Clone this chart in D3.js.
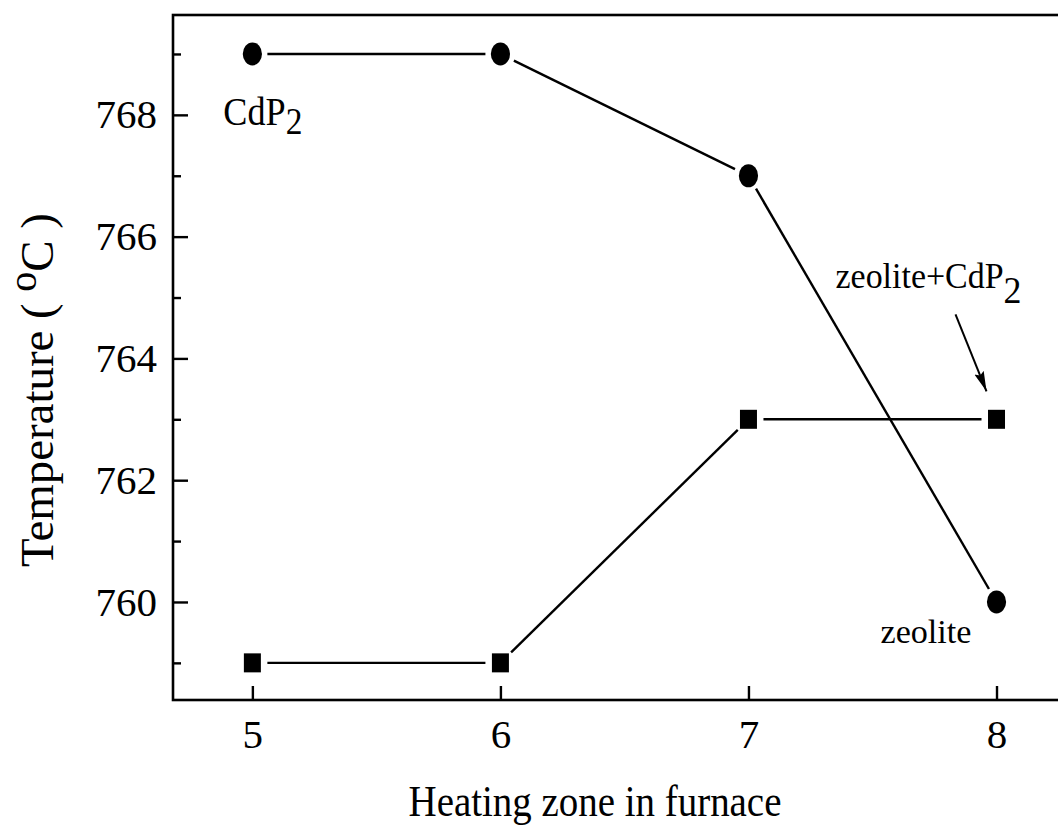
<!DOCTYPE html>
<html>
<head>
<meta charset="utf-8">
<script src="https://cdn.jsdelivr.net/npm/d3@7"></script>
<style>
  html, body { margin: 0; padding: 0; background: #fff; }
  svg { display: block; }
  text { font-family: "Liberation Serif", "Times New Roman", serif; fill: #000; }
</style>
</head>
<body>
<div id="chart"></div>
<script>
// zones along the furnace and the temperatures
var zones = [5, 6, 7, 8];
var circle_temps = [769, 769, 767, 760];
var square_temps = [759, 759, 763, 763];
var y_major = [760, 762, 764, 766, 768];
var y_minor = [759, 761, 763, 765, 767, 769];

var width = 1058, height = 827;
var left = 173, top_ = 15, bottom = 700;

var svg = d3.select('#chart').append('svg:svg')
  .attr('width', width)
  .attr('height', height);

var x = d3.scaleLinear().domain([4.68, 8.26]).range([left, 1061]);
var y = d3.scaleLinear().domain([758.39, 769.64]).range([bottom, top_]);

// frame (right side runs off the picture)
svg.append('rect')
  .attr('x', left).attr('y', top_)
  .attr('width', 1061 - left).attr('height', bottom - top_)
  .attr('fill', 'none').attr('stroke', '#000').attr('stroke-width', 2.6);

// y axis, ticks pointing inward
var yax = svg.append('g')
  .attr('transform', 'translate(' + left + ',0)')
  .call(d3.axisLeft(y).tickValues(y_major).tickSize(-15).tickPadding(16).tickFormat(d3.format('d')));
yax.select('.domain').remove();
yax.selectAll('line').attr('stroke-width', 2.4);
yax.selectAll('text').attr('font-size', 41).attr('font-family', null);

var yminor = svg.append('g')
  .attr('transform', 'translate(' + left + ',0)')
  .call(d3.axisLeft(y).tickValues(y_minor).tickSize(-8).tickFormat(''));
yminor.select('.domain').remove();
yminor.selectAll('line').attr('stroke-width', 2.4);

// x axis
var xax = svg.append('g')
  .attr('transform', 'translate(0,' + bottom + ')')
  .call(d3.axisBottom(x).tickValues(zones).tickSize(-14).tickFormat(d3.format('d')));
xax.select('.domain').remove();
xax.selectAll('line').attr('stroke-width', 2.4);
xax.selectAll('text').attr('font-size', 41).attr('font-family', null)
  .attr('y', 48).attr('dy', 0);

// connecting segments, stopped short of each marker
function plot_segments(vals) {
  var gap = 15;
  var pts = zones.map(function(z, i) { return [x(z), y(vals[i])]; });
  svg.append('g').selectAll('line')
    .data(d3.pairs(pts))
    .join('line')
    .each(function(d) {
      var dx = d[1][0] - d[0][0], dy = d[1][1] - d[0][1];
      var len = Math.sqrt(dx*dx + dy*dy);
      var ux = dx/len, uy = dy/len;
      d3.select(this)
        .attr('x1', d[0][0] + ux*gap).attr('y1', d[0][1] + uy*gap)
        .attr('x2', d[1][0] - ux*gap).attr('y2', d[1][1] - uy*gap);
    })
    .attr('stroke', '#000').attr('stroke-width', 2.4);
}
plot_segments(circle_temps);
plot_segments(square_temps);

svg.append('g').selectAll('ellipse')
  .data(zones)
  .join('ellipse')
  .attr('cx', function(d) { return x(d); })
  .attr('cy', function(d, i) { return y(circle_temps[i]); })
  .attr('rx', 9.6).attr('ry', 11.5)
  .attr('fill', '#000');

svg.append('g').selectAll('rect')
  .data(zones)
  .join('rect')
  .attr('x', function(d) { return x(d) - 8.5; })
  .attr('y', function(d, i) { return y(square_temps[i]) - 9.5; })
  .attr('width', 17).attr('height', 19)
  .attr('fill', '#000');

// text helpers
function squeeze(g, target) {
  var w = g.node().getBBox().width;
  g.attr('transform', g.attr('transform') + ' scale(' + (target / w) + ',1)');
}

function formula_label(px, py, main, sub, size, sub_size, sub_drop, target) {
  var g = svg.append('g').attr('transform', 'translate(' + px + ',' + py + ')');
  var t = g.append('text').attr('font-size', size).attr('x', 0).attr('y', 0);
  t.append('tspan').text(main);
  if(sub) {
    t.append('tspan').attr('font-size', sub_size).attr('dy', sub_drop).text(sub);
  }
  squeeze(g, target);
  return g;
}

formula_label(x(5) - 29, y(768) + 10, 'CdP', '2', 40, 37, 9, 79);
formula_label(x(8) - 116, y(760) + 41, 'zeolite', null, 34, 0, 0, 91);
formula_label(x(8) - 161, y(766) + 51, 'zeolite+CdP', '2', 35, 37, 15, 186);

// arrow to the last square
svg.append('defs').append('marker')
  .attr('id', 'head')
  .attr('markerUnits', 'userSpaceOnUse')
  .attr('viewBox', '-20 -6 22 12')
  .attr('markerWidth', 22).attr('markerHeight', 12)
  .attr('refX', 0).attr('refY', 0)
  .attr('orient', 'auto')
  .append('path')
  .attr('d', 'M0,0L-20,-5L-17,0L-20,5Z')
  .attr('fill', '#000');

svg.append('line')
  .attr('x1', x(8) - 41).attr('y1', y(763) - 105)
  .attr('x2', x(8) - 10).attr('y2', y(763) - 28)
  .attr('stroke', '#000').attr('stroke-width', 2)
  .attr('marker-end', 'url(#head)');

// axis titles
var xt = svg.append('g').attr('transform', 'translate(595,816)');
xt.append('text').attr('font-size', 44).attr('text-anchor', 'middle').text('Heating zone in furnace');
var xb = xt.node().getBBox().width;
xt.attr('transform', 'translate(595,816) scale(' + (373 / xb) + ',1)');

var yt = svg.append('g').attr('transform', 'translate(53,390) rotate(-90)');
var ytext = yt.append('text').attr('font-size', 47).attr('text-anchor', 'middle');
ytext.append('tspan').text('Temperature ( ');
ytext.append('tspan').attr('font-size', 40).attr('dy', -17).text('o');
ytext.append('tspan').attr('dy', 17).text('C');
ytext.append('tspan').text(' )');
var yb = yt.node().getBBox().width;
yt.attr('transform', 'translate(53,390) rotate(-90) scale(' + (354 / yb) + ',1)');
</script>
</body>
</html>
